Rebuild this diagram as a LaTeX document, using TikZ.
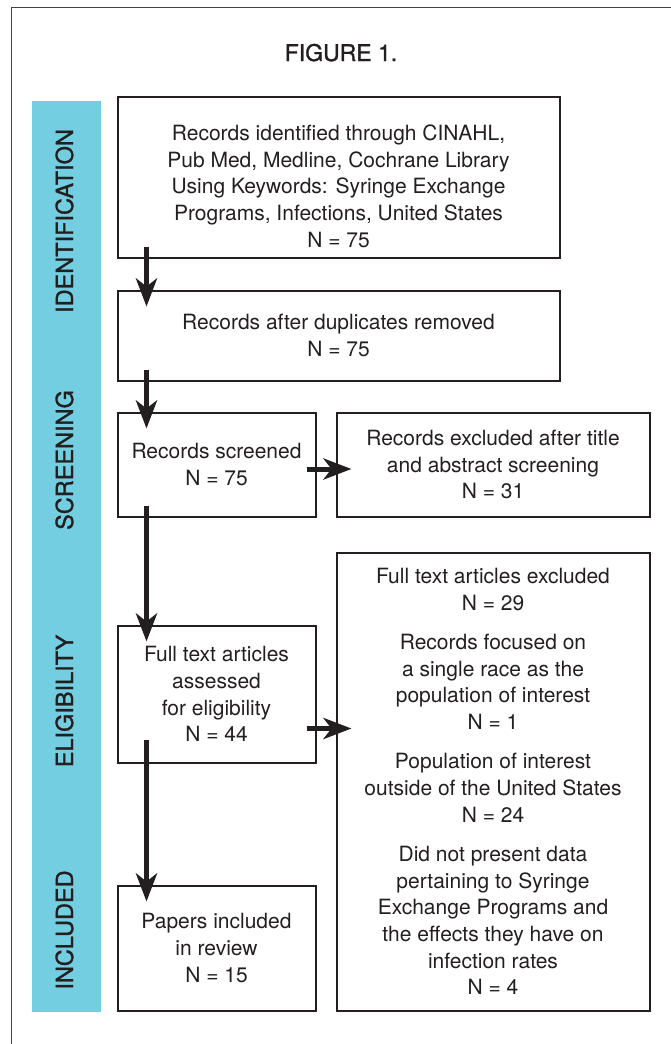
\documentclass[tikz,border=0pt]{standalone}
\usepackage{fontspec}
\setmainfont{TeX Gyre Heros}
\newfontfamily\labelfont[FakeBold=1.2]{TeX Gyre Heros}
\usetikzlibrary{arrows.meta}
\definecolor{barcyan}{RGB}{114,206,224}
\definecolor{inkgray}{RGB}{35,31,32}
\newcommand\boxfont{\fontsize{21}{26.7}\selectfont}
\newcommand\phasefont{\labelfont\fontsize{23.5}{28}\selectfont}

\begin{document}
\begin{tikzpicture}[x=1pt,y=-1pt,
  flowbox/.style={draw=inkgray,line width=2pt,align=center,inner sep=0pt,text=inkgray,font=\boxfont},
  phase/.style={rotate=90,anchor=base,text=inkgray,font=\phasefont},
  flowarrow/.style={-{Stealth[length=28pt,width=21pt,inset=8pt]},line width=5pt,draw=inkgray,
    shorten <=-12pt,shorten >=-17pt}]
\useasboundingbox (0,0) rectangle (671,1044);
% frame and side bar
\draw[line width=1.5pt,draw=inkgray!85] (671,7.5) -- (11.5,7.5) -- (11.5,1044);
\fill[barcyan] (32,101) rectangle (101,1012);
\node[anchor=base,text=inkgray,font=\labelfont\fontsize{23}{28}\selectfont] (title) at (341,61) {FIGURE 1.};

% phases
\node[phase] (phid) at (73,221) {IDENTIFICATION};
\node[phase] (phscr) at (73,460) {SCREENING};
\node[phase] (phelig) at (73,701) {ELIGIBILITY};
\node[phase] (phincl) at (73,930) {INCLUDED};

% boxes
\node[flowbox,minimum width=442pt,minimum height=161pt] (ident) at (338.5,177)
  {\rule{0pt}{34pt}Records identified through CINAHL,\\ Pub Med, Medline, Cochrane Library\\
   Using Keywords: Syringe Exchange\\ Programs, Infections, United States\\ N = 75};
\node[flowbox,minimum width=442pt,minimum height=90pt] (dup) at (338.5,335.5)
  {Records after duplicates removed\\ N = 75};
\node[flowbox,minimum width=198pt,minimum height=104pt] (screen) at (216.5,464.5)
  {Records screened\\ N = 75};
\node[flowbox,minimum width=313pt,minimum height=104pt] (excl1) at (493,464.5)
  {Records excluded after title\\ and abstract screening\\ N = 31};
\node[flowbox,minimum width=198pt,minimum height=137pt] (full) at (216.5,694)
  {Full text articles\\ assessed\\ for eligibility\\ N = 44};
\node[flowbox,minimum width=313pt,minimum height=458pt] (excl2) at (493,781.5)
  {Full text articles excluded\\ N = 29\\[12.5pt]
   Records focused on\\ a single race as the\\ population of interest\\ N = 1\\[12.5pt]
   Population of interest\\ outside of the United States\\ N = 24\\[12.5pt]
   Did not present data\\ pertaining to Syringe\\ Exchange Programs and\\
   the effects they have on\\ infection rates\\ N = 4};
\node[flowbox,minimum width=198pt,minimum height=125pt] (incl) at (216.5,948)
  {Papers included\\ in review\\ N = 15};

% arrows
\draw[flowarrow] ([xshift=30pt]ident.south west) -- ([xshift=30pt]dup.north west);
\draw[flowarrow] ([xshift=30pt]dup.south west) -- ([xshift=30pt]screen.north west);
\draw[flowarrow] ([xshift=30pt]screen.south west) -- ([xshift=30pt]full.north west);
\draw[flowarrow,shorten <=-24pt] ([xshift=30pt]full.south west) -- ([xshift=30pt]incl.north west);
\coordinate (out1) at ([yshift=48.5pt]screen.south east);
\draw[flowarrow,shorten <=-10pt,shorten >=-16pt] (out1) -- (out1 -| excl1.west);
\coordinate (out2) at ([yshift=35pt]full.south east);
\draw[flowarrow,shorten <=-10pt,shorten >=-16pt] (out2) -- (out2 -| excl2.west);
\end{tikzpicture}
\end{document}
